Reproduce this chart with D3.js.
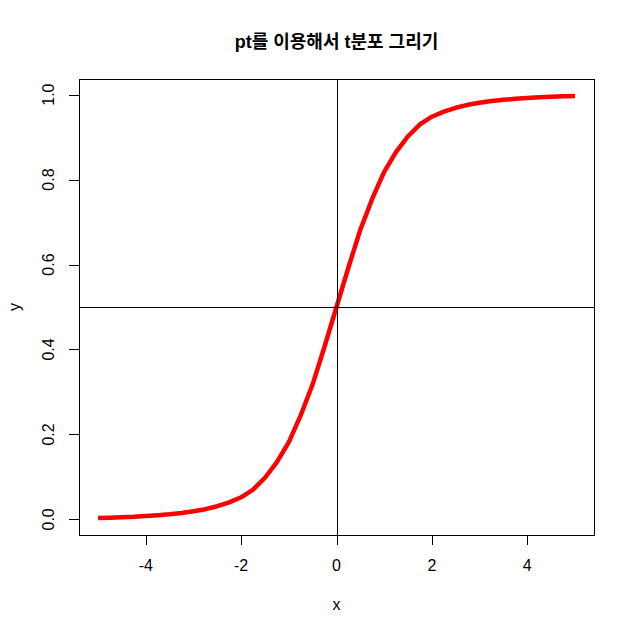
<!DOCTYPE html>
<html>
<head>
<meta charset="utf-8">
<script src="https://d3js.org/d3.v7.min.js"></script>
<style>
body {margin: 0; background: white;}
text {font-family: "Liberation Sans", Arial, "Noto Sans CJK KR", sans-serif; fill: black;}
</style>
</head>
<body>
<script>
// t CDF values
var xs = [-5, -4.75, -4.5, -4.25, -4, -3.75, -3.5, -3.25, -3, -2.75, -2.5, -2.25, -2, -1.75, -1.5, -1.25, -1, -0.75, -0.5, -0.25,
          0, 0.25, 0.5, 0.75, 1, 1.25, 1.5, 1.75, 2, 2.25, 2.5, 2.75, 3, 3.25, 3.5, 3.75, 4, 4.25, 4.5, 4.75, 5];
var ys = [0.003, 0.004, 0.005, 0.006, 0.008, 0.010, 0.012, 0.015, 0.019, 0.024, 0.031, 0.040, 0.052, 0.070, 0.098, 0.135, 0.182, 0.245, 0.318, 0.407,
          0.5, 0.593, 0.682, 0.755, 0.818, 0.865, 0.902, 0.930, 0.948, 0.960, 0.969, 0.976, 0.981, 0.985, 0.988, 0.990, 0.992, 0.994, 0.995, 0.996, 0.997];
var xTicks = [-4, -2, 0, 2, 4];
var yTicks = [0, 0.2, 0.4, 0.6, 0.8, 1.0];
var title = "pt를 이용해서 t분포 그리기";

var W = 634, H = 633;
var pl = 79, pr = 594, pt = 79, pb = 535;

var ymin = d3.min(ys), ymax = d3.max(ys), yr = ymax - ymin;
var x = d3.scaleLinear().domain([-5.4, 5.4]).range([pl, pr]);
var y = d3.scaleLinear().domain([ymin - 0.04 * yr, ymax + 0.04 * yr]).range([pb, pt]);

var svg = d3.select('body').append('svg')
  .attr('width', W)
  .attr('height', H);

svg.append('defs').append('clipPath').attr('id', 'clip')
  .append('rect')
  .attr('x', pl).attr('y', pt)
  .attr('width', pr - pl).attr('height', pb - pt);

var data = xs.map(function(d, i) { return {x: d, y: ys[i]}; });

var line = d3.line()
  .x(function(d) { return x(d.x); })
  .y(function(d) { return y(d.y); });

svg.append('path')
  .datum(data)
  .attr('clip-path', 'url(#clip)')
  .attr('d', line)
  .style('fill', 'none')
  .style('stroke', '#ff0000')
  .style('stroke-width', 4.5)
  .style('stroke-linejoin', 'round');

// reference lines
svg.append('line')
  .attr('x1', pl).attr('x2', pr)
  .attr('y1', Math.round(y(0.5)) + 0.5).attr('y2', Math.round(y(0.5)) + 0.5)
  .style('stroke', 'black');
svg.append('line')
  .attr('x1', Math.round(x(0)) + 0.5).attr('x2', Math.round(x(0)) + 0.5)
  .attr('y1', pt).attr('y2', pb)
  .style('stroke', 'black');

// box
svg.append('rect')
  .attr('x', pl + 0.5).attr('y', pt + 0.5)
  .attr('width', pr - pl).attr('height', pb - pt)
  .style('fill', 'none')
  .style('stroke', 'black');

// x axis
var xa = svg.append('g');
xa.selectAll('line').data(xTicks).enter().append('line')
  .attr('x1', function(d) { return Math.round(x(d)) + 0.5; })
  .attr('x2', function(d) { return Math.round(x(d)) + 0.5; })
  .attr('y1', pb).attr('y2', pb + 10)
  .style('stroke', 'black');
xa.selectAll('text').data(xTicks).enter().append('text')
  .attr('x', function(d) { return x(d); })
  .attr('y', 565)
  .attr('dy', '.35em')
  .style('text-anchor', 'middle')
  .style('font-size', '16px')
  .text(function(d) { return d < 0 ? '-' + Math.abs(d) : d; });

// y axis
var ya = svg.append('g');
ya.selectAll('line').data(yTicks).enter().append('line')
  .attr('x1', pl - 10).attr('x2', pl)
  .attr('y1', function(d) { return Math.round(y(d)) + 0.5; })
  .attr('y2', function(d) { return Math.round(y(d)) + 0.5; })
  .style('stroke', 'black');
ya.selectAll('text').data(yTicks).enter().append('text')
  .attr('transform', function(d) { return 'translate(48,' + y(d) + ')rotate(-90)'; })
  .attr('dy', '.35em')
  .style('text-anchor', 'middle')
  .style('font-size', '16px')
  .text(function(d) { return d3.format('.1f')(d); });

// labels
svg.append('text')
  .attr('x', (pl + pr) / 2)
  .attr('y', 604)
  .attr('dy', '.35em')
  .style('text-anchor', 'middle')
  .style('font-size', '16px')
  .text('x');
svg.append('text')
  .attr('transform', 'translate(14,' + (pt + pb) / 2 + ')rotate(-90)')
  .attr('dy', '.35em')
  .style('text-anchor', 'middle')
  .style('font-size', '16px')
  .text('y');

svg.append('text')
  .attr('x', (pl + pr) / 2)
  .attr('y', 48)
  .style('text-anchor', 'middle')
  .style('font-size', '18px')
  .style('font-weight', 'bold')
  .text(title);
</script>
</body>
</html>
